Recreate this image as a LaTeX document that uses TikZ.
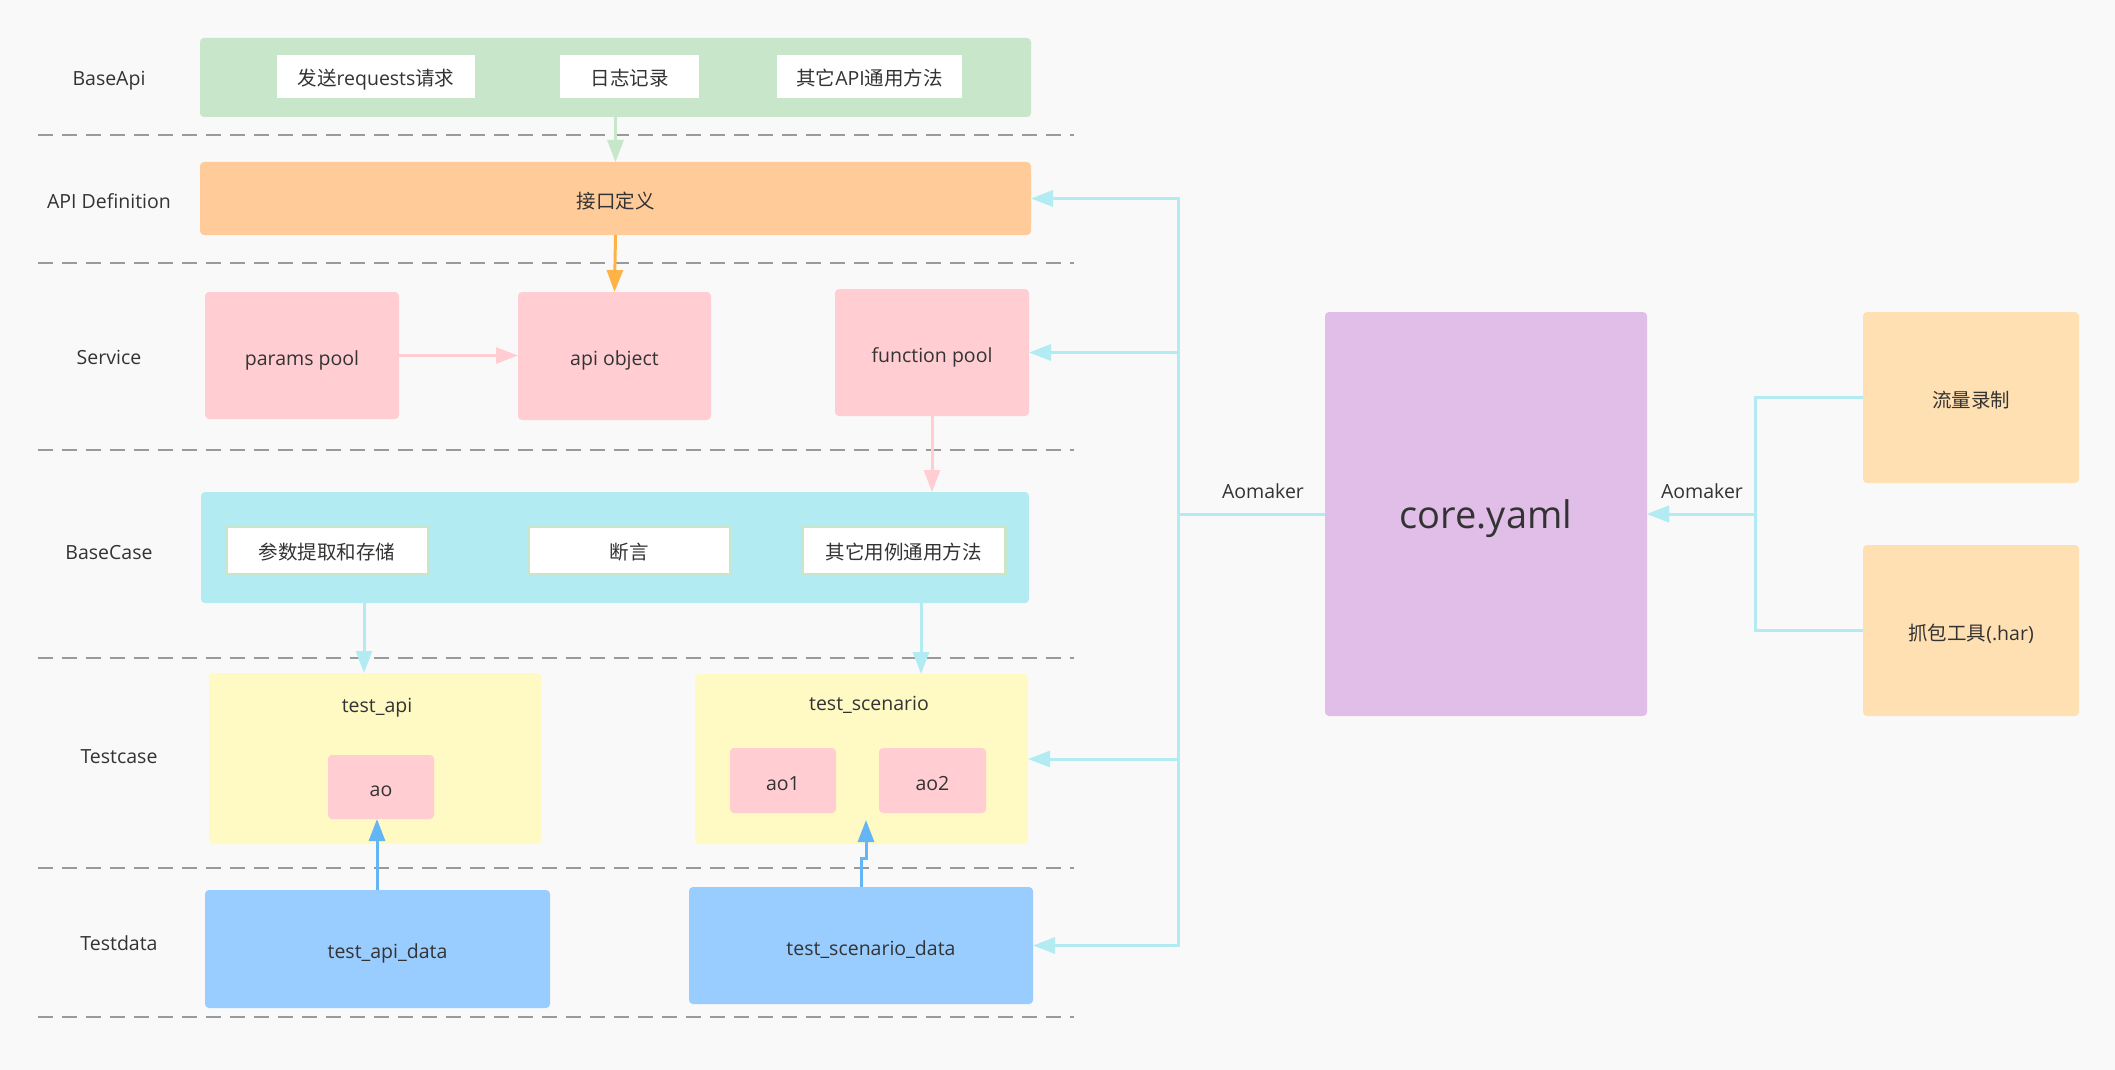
\documentclass[tikz,border=0pt]{standalone}
\usepackage{fontspec}
\setmainfont{Open Sans}
\newfontfamily\cjk{Noto Sans CJK SC}
\usetikzlibrary{arrows.meta}
\definecolor{bg}{HTML}{F9F9F9}
\definecolor{txt}{HTML}{333333}
\definecolor{dashc}{HTML}{9A9A9A}
\definecolor{cgreen}{HTML}{C8E6C9}
\definecolor{corange}{HTML}{FFCC99}
\definecolor{cpink}{HTML}{FFCDD2}
\definecolor{ccyan}{HTML}{B2EBF2}
\definecolor{cyellow}{HTML}{FFF9C4}
\definecolor{cblue}{HTML}{99CCFF}
\definecolor{cpurple}{HTML}{E1BEE7}
\definecolor{cpeach}{HTML}{FFE0B2}
\definecolor{aorange}{HTML}{FFB347}
\definecolor{ablue}{HTML}{64B5F6}
\newcommand\myfs{\fontsize{19.5}{24}\selectfont}
\tikzset{
  box/.style={rounded corners=4pt, inner sep=0pt, outer sep=0pt, text=txt, font=\myfs, align=center, text height=23pt, text depth=4pt},
  wbox/.style={fill=white, inner sep=0pt, outer sep=0pt, text=txt, font=\myfs, text height=23pt, text depth=4pt},
  gbox/.style={fill=white, draw=cgreen, line width=3pt, inner sep=0pt, outer sep=0pt, text=txt, font=\myfs, text height=23pt, text depth=4pt},
  lbl/.style={text=txt, font=\myfs, inner sep=0pt},
  sep/.style={draw=dashc, line width=2pt, dash pattern=on 15pt off 9pt},
  conn/.style={line width=3pt, -{Triangle[length=22pt,width=16pt]}},
}
\begin{document}
\begin{tikzpicture}[x=1pt,y=-1pt]
\fill[bg] (0,0) rectangle (2115,1070);
\useasboundingbox (0,0) rectangle (2115,1070);

% separators
\foreach \yy in {135,263,450,658,868,1017}{\draw[sep] (38,\yy) -- (1074,\yy);}

% row labels
\node[lbl] (lBaseApi) at (109,81) {BaseApi};
\node[lbl] (lApiDef) at (109,201) {API Definition};
\node[lbl] (lService) at (109,357) {Service};
\node[lbl] (lBaseCase) at (109,553) {BaseCase};
\node[lbl] (lTestcase) at (119,757) {Testcase};
\node[lbl] (lTestdata) at (119,943) {Testdata};

% BaseApi
\node[box, fill=cgreen, minimum width=831pt, minimum height=79pt] (baseapi) at (615.5,77.5) {};
\node[wbox, minimum width=198pt, minimum height=43pt] (b1) at (376,76.5) {{\cjk 发送}requests{\cjk 请求}};
\node[wbox, minimum width=139pt, minimum height=43pt] (b2) at (629.5,76.5) {\cjk 日志记录};
\node[wbox, minimum width=185pt, minimum height=43pt] (b3) at (869.5,76.5) {{\cjk 其它}API{\cjk 通用方法}};

% API definition
\node[box, fill=corange, minimum width=831pt, minimum height=73pt] (apidef) at (615.5,198.5) {\cjk 接口定义};

% Service
\node[box, fill=cpink, minimum width=194pt, minimum height=127pt] (params) at (302,355.5) {params pool};
\node[box, fill=cpink, minimum width=193pt, minimum height=128pt] (apiobj) at (614.5,356) {api object};
\node[box, fill=cpink, minimum width=194pt, minimum height=127pt] (funcpool) at (932,352.5) {function pool};

% BaseCase
\node[box, fill=ccyan, minimum width=828pt, minimum height=111pt] (basecase) at (615,547.5) {};
\node[gbox, minimum width=202pt, minimum height=48pt] (c1) at (327,550) {\cjk 参数提取和存储};
\node[gbox, minimum width=202pt, minimum height=48pt] (c2) at (629,550) {\cjk 断言};
\node[gbox, minimum width=203pt, minimum height=48pt] (c3) at (903.5,550) {\cjk 其它用例通用方法};

% Testcase
\node[box, fill=cyellow, minimum width=332pt, minimum height=171pt] (testapi) at (375,758.5) {};
\node[lbl] (testapiL) at (377,708) {test\_api};
\node[box, fill=cpink, minimum width=106pt, minimum height=64pt] (ao) at (381,787) {ao};
\node[box, fill=cyellow, minimum width=333pt, minimum height=170pt] (testscen) at (861.5,759) {};
\node[lbl] (testscenL) at (869,705) {test\_scenario};
\node[box, fill=cpink, minimum width=106pt, minimum height=65pt] (ao1) at (783,780.5) {ao1};
\node[box, fill=cpink, minimum width=107pt, minimum height=65pt] (ao2) at (932.5,780.5) {ao2};

% Testdata
\node[box, fill=cblue, minimum width=345pt, minimum height=118pt] (tad) at (377.5,949) {\hspace*{20pt}test\_api\_data};
\node[box, fill=cblue, minimum width=344pt, minimum height=117pt] (tsd) at (861,945.5) {\hspace*{20pt}test\_scenario\_data};

% right side
\node[box, fill=cpurple, minimum width=322pt, minimum height=404pt, font=\fontsize{38}{44}\selectfont, text height=36pt, text depth=8pt] (core) at (1486,514) {core.yaml};
\node[box, fill=cpeach, minimum width=216pt, minimum height=171pt] (liu) at (1971,397.5) {\cjk 流量录制};
\node[box, fill=cpeach, minimum width=216pt, minimum height=171pt] (zhua) at (1971,630.5) {{\cjk 抓包工具}(.har)};
\node[lbl] (aomL) at (1263,491) {Aomaker};
\node[lbl] (aomR) at (1702,491) {Aomaker};

% connectors
\draw[conn, draw=cgreen] (baseapi.south) -- (apidef.north);
\draw[conn, draw=aorange] (apidef.south) -- (apiobj.north);
\draw[conn, draw=cpink] (params.east) -- (params.east -| apiobj.west);
\draw[conn, draw=cpink] (funcpool.south) -- (funcpool.south |- basecase.north);

\coordinate (x1) at (364,0);
\coordinate (x2) at (921,0);
\draw[conn, draw=ccyan] (x1 |- basecase.south) -- (x1 |- testapi.north);
\draw[conn, draw=ccyan] (x2 |- basecase.south) -- (x2 |- testscen.north);

\coordinate (x3) at (377,0);
\draw[conn, draw=ablue] (x3 |- tad.north) -- (x3 |- ao.south);
\coordinate (x4) at (861,0);
\coordinate (j1) at (861,858);
\coordinate (j2) at (866,858);
\coordinate (tipS) at (866,820);
\draw[conn, draw=ablue] (x4 |- tsd.north) -- (j1) -- (j2) -- (tipS);

\coordinate (busL) at (1178,514);
\foreach \t in {apidef,funcpool,testscen,tsd}{
  \draw[conn, draw=ccyan] (core.west) -- (busL) |- (\t.east);
}
\coordinate (busR) at (1755,514);
\draw[conn, draw=ccyan] (liu.west) -| (busR) -- (core.east);
\draw[conn, draw=ccyan] (zhua.west) -| (busR) -- (core.east);
\end{tikzpicture}
\end{document}
